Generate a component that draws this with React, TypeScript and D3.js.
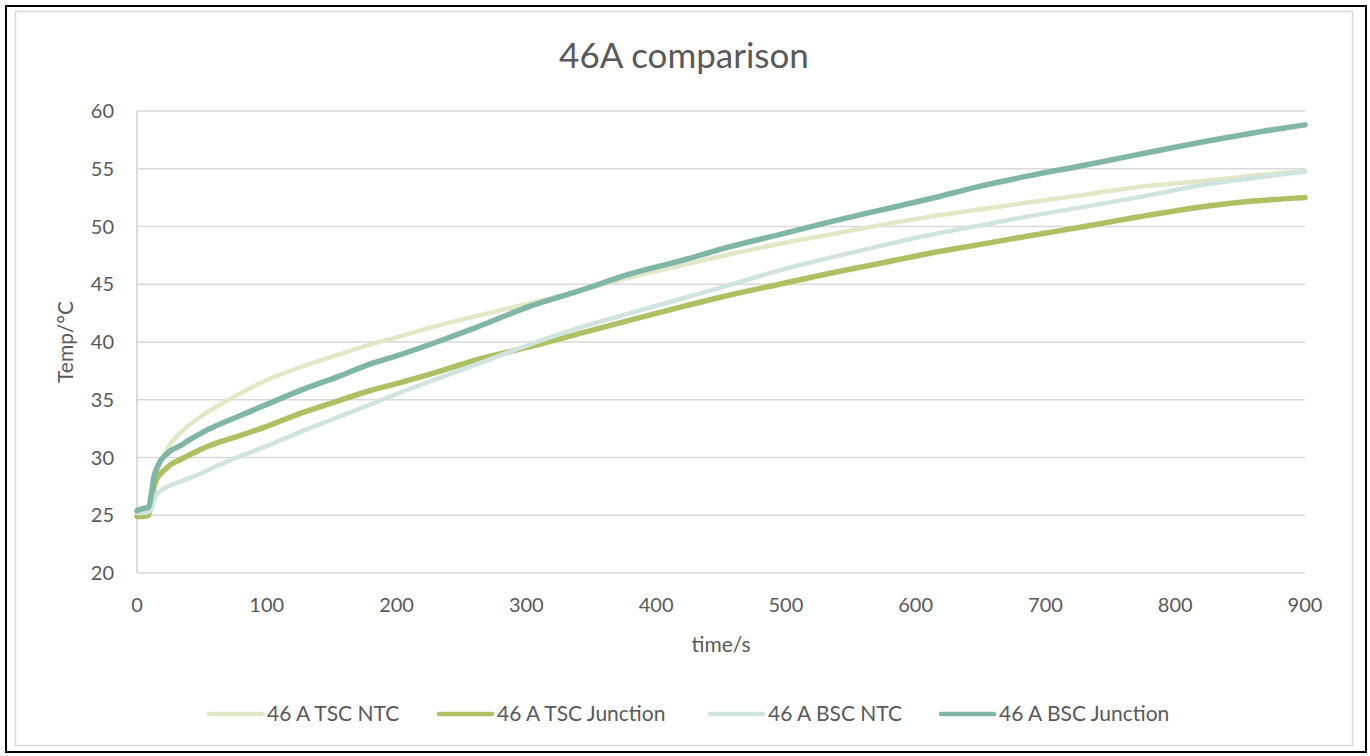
import React from "react";
import * as d3 from "d3";

const times = [0, 5, 9, 11, 13, 15, 18, 22, 26, 33, 40, 51, 60, 77, 100, 128, 155, 180, 200, 231, 260, 303, 340, 380, 418, 457, 495, 534, 572, 611, 650, 688, 730, 770, 827, 860, 900];

const tscNtc = [25.2, 25.2, 25.3, 26.2, 27.5, 28.6, 29.6, 30.5, 31.2, 32.1, 32.8, 33.7, 34.3, 35.4, 36.7, 37.9, 38.9, 39.8, 40.4, 41.4, 42.2, 43.35, 44.4, 45.6, 46.6, 47.6, 48.5, 49.3, 50.1, 50.85, 51.5, 52.1, 52.75, 53.4, 54.0, 54.4, 54.8];
const tscJunction = [24.9, 24.9, 25.0, 26.2, 27.4, 28.1, 28.6, 29.0, 29.4, 29.8, 30.2, 30.8, 31.2, 31.8, 32.7, 33.9, 34.9, 35.8, 36.4, 37.4, 38.4, 39.6, 40.7, 41.9, 43.0, 44.07, 45.0, 45.95, 46.8, 47.68, 48.45, 49.2, 50.0, 50.8, 51.8, 52.2, 52.5];
const bscNtc = [25.2, 25.2, 25.3, 25.5, 26.3, 26.8, 27.1, 27.4, 27.6, 27.9, 28.2, 28.7, 29.2, 30.0, 31.0, 32.3, 33.5, 34.6, 35.5, 36.8, 38.0, 39.8, 41.2, 42.5, 43.7, 44.94, 46.2, 47.3, 48.3, 49.26, 50.1, 50.9, 51.7, 52.5, 53.7, 54.2, 54.75];
const bscJunction = [25.4, 25.6, 25.7, 26.8, 28.3, 29.0, 29.7, 30.2, 30.6, 31.0, 31.5, 32.2, 32.7, 33.5, 34.6, 35.9, 37.0, 38.1, 38.8, 40.0, 41.2, 43.1, 44.4, 45.9, 47.0, 48.25, 49.3, 50.4, 51.4, 52.4, 53.5, 54.4, 55.3, 56.2, 57.45, 58.1, 58.8];

const seriesNames = ["46 A TSC NTC", "46 A TSC Junction", "46 A BSC NTC", "46 A BSC Junction"];
const seriesValues = [tscNtc, tscJunction, bscNtc, bscJunction];
const seriesColors = ["#e0e8c5", "#adc062", "#cfe4de", "#80b6a6"];
const seriesWidths = [4.5, 5.5, 4.5, 5.5];

const xTicks = [0, 100, 200, 300, 400, 500, 600, 700, 800, 900];
const yTicks = [20, 25, 30, 35, 40, 45, 50, 55, 60];

const legendLineX = [209, 439, 710, 941];

export default function App() {
  const W = 1370, H = 756;
  const x = d3.scaleLinear().domain([0, 900]).range([137, 1305]);
  const y = d3.scaleLinear().domain([20, 60]).range([573, 111]);
  const font = "Lato, 'Open Sans', sans-serif";
  const txt = "#595959";

  const line = d3.line<number>()
    .x((_, i) => x(times[i]))
    .y((v) => y(v))
    .curve(d3.curveMonotoneX);

  return (
    <svg width={W} height={H} style={{ position: "absolute", left: 0, top: 0, background: "#fff" }}>
      <rect x={0} y={0} width={W} height={H} fill="#fff" />
      <rect x={6} y={6} width={1360} height={746} fill="none" stroke="#000" strokeWidth={2} />
      <rect x={15.5} y={11.5} width={1337} height={734} fill="none" stroke="#d9d9d9" strokeWidth={1.5} />

      <text x={684} y={68} textAnchor="middle" fontFamily={font} fontSize={35} fill={txt}>46A comparison</text>

      {yTicks.map((t) => (
        <g key={t}>
          <line x1={137} x2={1305} y1={y(t)} y2={y(t)} stroke="#d9d9d9" strokeWidth={1.5} />
          <text x={114} y={y(t)} dy="0.35em" textAnchor="end" fontFamily={font} fontSize={20} fill={txt}>{t}</text>
        </g>
      ))}
      <line x1={137} x2={137} y1={111} y2={573} stroke="#d0d0d0" strokeWidth={1.5} />

      {xTicks.map((t) => (
        <text key={t} x={x(t)} y={612} textAnchor="middle" fontFamily={font} fontSize={20} fill={txt}>{t}</text>
      ))}

      <text x={721} y={652} textAnchor="middle" fontFamily={font} fontSize={21} fill={txt}>time/s</text>
      <text transform={`translate(73,342) rotate(-90)`} textAnchor="middle" fontFamily={font} fontSize={21} fill={txt}>Temp/°C</text>

      {seriesValues.map((vals, i) => (
        <path key={i} d={line(vals) || ""} fill="none" stroke={seriesColors[i]} strokeWidth={seriesWidths[i]} strokeLinejoin="round" strokeLinecap="round" />
      ))}

      {seriesNames.map((name, i) => (
        <g key={name}>
          <line x1={legendLineX[i]} x2={legendLineX[i] + 53} y1={714} y2={714} stroke={seriesColors[i]} strokeWidth={4.5} strokeLinecap="round" />
          <text x={legendLineX[i] + 58} y={714} dy="0.35em" fontFamily={font} fontSize={21} fill={txt}>{name}</text>
        </g>
      ))}
    </svg>
  );
}
